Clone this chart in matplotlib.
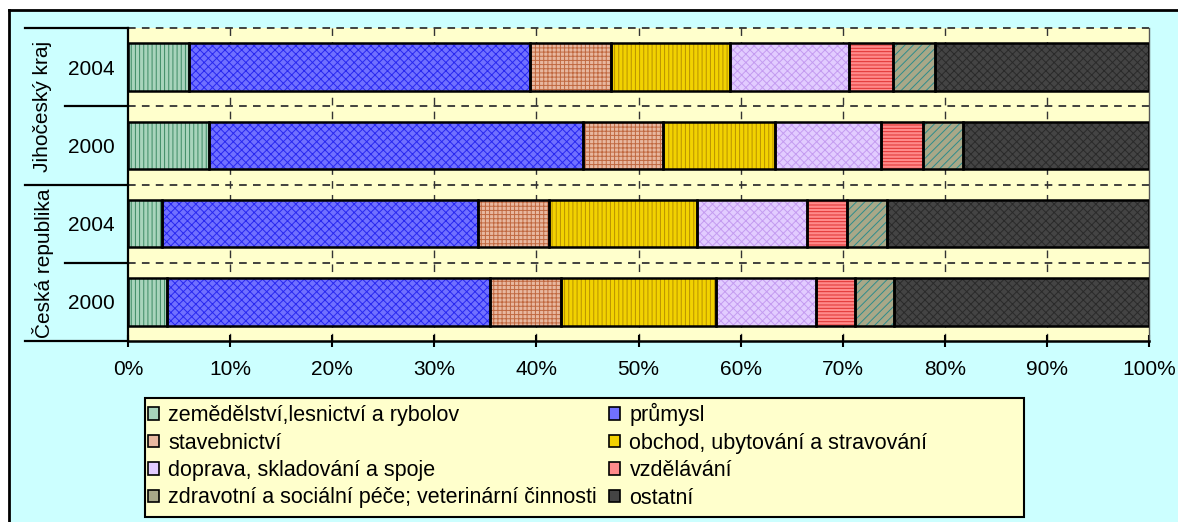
import matplotlib
matplotlib.use("Agg")
import matplotlib.pyplot as plt
from matplotlib.patches import Patch, Rectangle
from matplotlib.lines import Line2D
import numpy as np

plt.rcParams['font.family'] = ['Liberation Sans', 'DejaVu Sans']
plt.rcParams['hatch.linewidth'] = 0.7
plt.rcParams['lines.scale_dashes'] = False

# data (shares in %, bottom to top)
rows = ["2000", "2004", "2000", "2004"]
groups = ["Česká republika", "Jihočeský kraj"]
sectors = ["zemědělství,lesnictví a rybolov", "průmysl", "stavebnictví",
           "obchod, ubytování a stravování", "doprava, skladování a spoje",
           "vzdělávání", "zdravotní a sociální péče; veterinární činnosti", "ostatní"]
cr_2000 = [3.8, 31.7, 6.9, 15.2, 9.8, 3.8, 3.8, 25.0]
cr_2004 = [3.3, 31.0, 6.9, 14.5, 10.8, 3.9, 3.9, 25.7]
jk_2000 = [7.9, 36.7, 7.8, 11.0, 10.4, 4.1, 3.9, 18.2]
jk_2004 = [6.0, 33.4, 7.9, 11.7, 11.6, 4.3, 4.1, 21.0]
values = np.array([cr_2000, cr_2004, jk_2000, jk_2004])

# styles: facecolor, hatch, hatch colour
fills = ['#A8D4BC', '#7070FF', '#E8B8A0', '#F2D200', '#E2CCFF', '#FF8A8A', '#A8A888', '#444444']
hatches = ['||||', 'xxxx', '++++', '||||', 'xxxx', '-----', '////', 'xxxx']
hcolors = ['#3D8A64', '#2828F0', '#C06840', '#B89000', '#C49CF0', '#E03030', '#2E8C8C', '#2A2A2A']

W, H = 1178, 522
FS = 15
fig = plt.figure(figsize=(W / 100, H / 100), dpi=100)
fig.patch.set_facecolor('white')
fig.add_artist(Rectangle((9 / W, 0), 1, 1 - 10 / H, transform=fig.transFigure,
                         facecolor='#CCFFFF', edgecolor='none', zorder=-10))
fig.add_artist(Line2D([9 / W, 9 / W], [0, 1 - 10 / H], transform=fig.transFigure, color='black', lw=2))
fig.add_artist(Line2D([9 / W, 1], [1 - 10 / H, 1 - 10 / H], transform=fig.transFigure, color='black', lw=2))

ax = fig.add_axes([128 / W, 1 - 341 / H, (1149 - 128) / W, (341 - 28) / H])
ax.set_facecolor('#FFFFCC')

y = np.arange(len(rows))
left = np.zeros(len(rows))
for i, name in enumerate(sectors):
    ax.barh(y, values[:, i], left=left, height=0.61, color=fills[i], hatch=hatches[i],
            edgecolor=hcolors[i], linewidth=0, zorder=2)
    ax.barh(y, values[:, i], left=left, height=0.61, fill=False,
            edgecolor='black', linewidth=1.8, zorder=3)
    left += values[:, i]

ax.set_xlim(0, 100)
ax.set_ylim(-0.5, 3.5)
ax.set_xticks(np.arange(0, 101, 10))
ax.set_xticklabels([f"{v}%" for v in range(0, 101, 10)], fontsize=FS)
ax.set_yticks(y)
ax.set_yticklabels(rows, fontsize=FS)
ax.tick_params(axis='y', length=0, pad=9.5)
ax.tick_params(axis='x', direction='inout', length=9, width=1.5, pad=9)

dash = (0, (5.5, 4.5))
for xv in range(10, 100, 10):
    ax.axvline(xv, color='#333333', lw=1, linestyle=dash, zorder=1)
for yv in [0.5, 1.5, 2.5, 3.5]:
    ax.axhline(yv, color='#333333', lw=1.3, linestyle=dash, zorder=1, clip_on=False)

ax.spines['top'].set_visible(False)
ax.spines['right'].set_color('#555555')
ax.spines['right'].set_linewidth(1)
ax.spines['left'].set_linewidth(1.6)
ax.spines['bottom'].set_linewidth(1.8)

# multi-level category axis
aw = 1149 - 128
for yv, xs in [(3.5, 25), (2.5, 65), (1.5, 25), (0.5, 65), (-0.5, 25)]:
    ax.add_line(Line2D([(xs - 128) / aw, 0], [yv, yv], transform=ax.get_yaxis_transform(),
                       color='black', lw=1.6, clip_on=False))
for gy, g in zip([0.5, 2.5], groups):
    ax.text((43 - 128) / aw, gy, g, transform=ax.get_yaxis_transform(), rotation=90,
            ha='center', va='center', fontsize=FS)

# legend box (wider than its content, as in the original)
fig.add_artist(Rectangle((145 / W, 1 - 517 / H), (1024 - 145) / W, (517 - 398) / H,
                         transform=fig.transFigure, facecolor='#FFFFCC', edgecolor='black',
                         linewidth=1.5, zorder=1))
order = [0, 2, 4, 6, 1, 3, 5, 7]
handles = [Patch(facecolor=fills[i], edgecolor='black', linewidth=1.2) for i in order]
labels = [sectors[i] for i in order]
leg = fig.legend(handles, labels, loc='upper left', bbox_to_anchor=(148 / W, 1 - 403 / H),
                 ncol=2, fontsize=15.5, frameon=False, handlelength=0.5, handleheight=0.5,
                 handletextpad=0.45, labelspacing=0.3, columnspacing=0.55, borderpad=0,
                 borderaxespad=0)
leg.set_zorder(2)

fig.savefig('out.png', dpi=100)
